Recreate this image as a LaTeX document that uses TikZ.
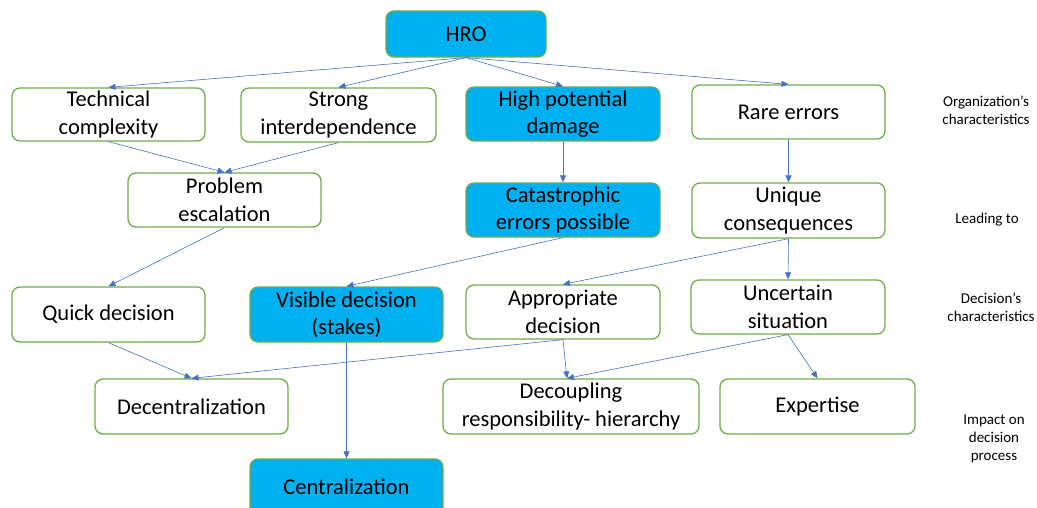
\documentclass[tikz,border=0pt]{standalone}
\usepackage{fontspec}
\setmainfont{Carlito}
\usetikzlibrary{arrows.meta}
\definecolor{boxgreen}{HTML}{70AD47}
\definecolor{boxcyan}{HTML}{00B0F0}
\definecolor{arrowblue}{HTML}{4472C4}
\tikzset{
  box/.style={draw=boxgreen, line width=1.3pt, rounded corners=8pt, fill=white,
    align=center, inner sep=0pt, font=\fontsize{22.5}{27.5}\selectfont},
  hot/.style={box, fill=boxcyan},
  side/.style={align=center, font=\fontsize{15}{18}\selectfont},
  conn/.style={draw=arrowblue, line width=0.6pt, -{Triangle[length=7pt,width=6pt]}},
}
\begin{document}
\begin{tikzpicture}[x=1pt,y=-1pt]
\useasboundingbox (0,0) rectangle (1037,508);
\begin{scope}
\clip (0,0) rectangle (1037,508);
% row 0
\node[hot, minimum width=160pt, minimum height=46pt] (hro) at (466,34) {HRO};
% row 1
\node[box, minimum width=193pt, minimum height=53pt] (tech) at (108.5,114.5) {Technical\\complexity};
\node[box, minimum width=195pt, minimum height=54pt] (inter) at (338.5,115) {Strong\\interdependence};
\node[hot, minimum width=194pt, minimum height=54pt] (damage) at (563,114) {High potential\\damage};
\node[box, minimum width=193pt, minimum height=54pt] (rare) at (788.5,112) {Rare errors};
% row 2
\node[box, minimum width=193pt, minimum height=54pt] (esc) at (224.5,200) {Problem\\escalation};
\node[hot, minimum width=194pt, minimum height=54pt] (cat) at (563,210) {Catastrophic\\errors possible};
\node[box, minimum width=193pt, minimum height=55pt] (uniq) at (788.5,210.5) {Unique\\consequences};
% row 3
\node[box, minimum width=193pt, minimum height=55pt] (quick) at (108.5,314.5) {Quick decision};
\node[hot, minimum width=193pt, minimum height=55pt] (visible) at (346.5,314.5) {Visible decision\\(stakes)};
\node[box, minimum width=194pt, minimum height=54pt] (approp) at (563,312) {Appropriate\\decision};
\node[box, minimum width=194pt, minimum height=54pt] (uncert) at (788,307) {Uncertain\\situation};
% row 4
\node[box, minimum width=193pt, minimum height=55pt] (decen) at (191.5,406.5) {Decentralization};
\node[box, minimum width=256pt, minimum height=55pt] (decoup) at (571,406.5) {Decoupling\\responsibility- hierarchy};
\node[box, minimum width=195pt, minimum height=55pt] (expert) at (817.5,406.5) {Expertise};
% row 5
\node[hot, minimum width=193pt, minimum height=56pt] (central) at (346.5,487) {Centralization};
\end{scope}
% side labels
\node[side] (l1) at (986,110) {Organization’s\\characteristics};
\node[side] (l2) at (987,220) {Leading to};
\node[side] (l3) at (991,307) {Decision’s\\characteristics};
\node[side] (l4) at (994,439) {Impact on\\decision\\process};
% connectors
\draw[conn] (hro.south) -- (tech.north);
\draw[conn] (hro.south) -- (inter.north);
\draw[conn] (hro.south) -- (damage.north);
\draw[conn] (hro.south) -- (rare.north);
\draw[conn] (tech.south) -- (esc.north);
\draw[conn] (inter.south) -- (esc.north);
\draw[conn] (damage.south) -- (cat.north);
\draw[conn] (rare.south) -- (uniq.north);
\draw[conn] (esc.south) -- (quick.north);
\draw[conn] (cat.south) -- (visible.north);
\draw[conn] (uniq.south) -- (approp.north);
\draw[conn] (uniq.south) -- (uncert.north);
\draw[conn] (quick.south) -- (decen.north);
\draw[conn] (approp.south) -- (decen.north);
\draw[conn] (approp.south) -- ([xshift=-4pt]decoup.north);
\draw[conn] (uncert.south) -- ([xshift=-4pt]decoup.north);
\draw[conn] (uncert.south) -- (expert.north);
\draw[conn] (visible.south) -- (central.north);
\end{tikzpicture}
\end{document}
